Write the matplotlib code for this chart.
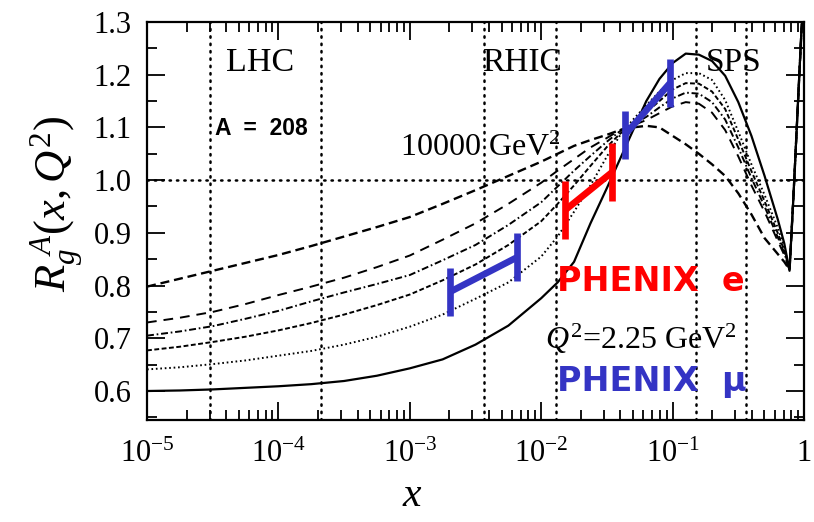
import numpy as np
import matplotlib
matplotlib.use("Agg")
import matplotlib.pyplot as plt
from matplotlib.ticker import FixedLocator, LogLocator, MultipleLocator, FormatStrFormatter, NullFormatter

plt.rcParams['font.family'] = ['Liberation Serif', 'DejaVu Serif']
plt.rcParams['mathtext.fontset'] = 'custom'
plt.rcParams['mathtext.rm'] = 'Liberation Serif'
plt.rcParams['mathtext.it'] = 'Liberation Serif:italic'
plt.rcParams['axes.unicode_minus'] = False
plt.rcParams['lines.scale_dashes'] = False

# ---- data (log10 x grid shared by all curves) ----
logx = [-5, -4.75, -4.5, -4.25, -4, -3.75, -3.5, -3.25, -3, -2.75, -2.5, -2.25, -2, -1.875, -1.75, -1.625, -1.5,
        -1.4, -1.3, -1.2, -1.1, -1.0, -0.9, -0.8, -0.7, -0.6, -0.5, -0.4, -0.3, -0.2, -0.15, -0.11,
        -0.08, -0.05, -0.02, 0.0]

rg_q2_2p25 = [0.600, 0.601, 0.603, 0.606, 0.609, 0.613, 0.619, 0.629, 0.643, 0.660, 0.688, 0.724, 0.776, 0.806,
              0.845, 0.918, 0.985, 1.040, 1.095, 1.150, 1.192, 1.222, 1.240, 1.238, 1.226, 1.198, 1.148, 1.084,
              1.008, 0.926, 0.880, 0.828, 0.97, 1.125, 1.28, 1.36]
rg_curve2 = [0.641, 0.645, 0.651, 0.658, 0.667, 0.676, 0.688, 0.703, 0.722, 0.745, 0.775, 0.806, 0.855, 0.893,
             0.940, 0.990, 1.045, 1.085, 1.115, 1.142, 1.168, 1.190, 1.203, 1.203, 1.190, 1.152, 1.092, 1.030,
             0.972, 0.910, 0.872, 0.830, 0.97, 1.125, 1.28, 1.36]
rg_curve3 = [0.677, 0.684, 0.693, 0.703, 0.715, 0.729, 0.745, 0.763, 0.783, 0.810, 0.840, 0.877, 0.922, 0.955,
             0.990, 1.027, 1.063, 1.088, 1.108, 1.129, 1.150, 1.172, 1.184, 1.183, 1.168, 1.135, 1.077, 1.017,
             0.960, 0.900, 0.866, 0.830, 0.97, 1.125, 1.28, 1.36]
rg_curve4 = [0.705, 0.713, 0.723, 0.737, 0.752, 0.770, 0.787, 0.803, 0.820, 0.848, 0.877, 0.915, 0.958, 0.988,
             1.018, 1.046, 1.073, 1.093, 1.106, 1.120, 1.138, 1.155, 1.166, 1.164, 1.148, 1.115, 1.062, 1.004,
             0.950, 0.892, 0.862, 0.830, 0.97, 1.125, 1.28, 1.36]
rg_curve5 = [0.730, 0.739, 0.750, 0.765, 0.782, 0.798, 0.815, 0.835, 0.857, 0.887, 0.918, 0.955, 0.995, 1.018,
             1.040, 1.062, 1.080, 1.095, 1.104, 1.114, 1.127, 1.140, 1.148, 1.145, 1.128, 1.095, 1.045, 0.990,
             0.940, 0.885, 0.858, 0.830, 0.97, 1.125, 1.28, 1.36]
rg_q2_10000 = [0.798, 0.813, 0.828, 0.843, 0.858, 0.875, 0.893, 0.911, 0.930, 0.955, 0.981, 1.008, 1.035, 1.050,
               1.065, 1.076, 1.086, 1.095, 1.100, 1.103, 1.100, 1.084, 1.068, 1.050, 1.030, 1.008, 0.975, 0.935,
               0.890, 0.860, 0.845, 0.830, 0.97, 1.125, 1.28, 1.36]

# PHENIX bars: x at the two ends, y centres, half heights
phenix_mu1_x = [0.00202, 0.0066]
phenix_mu1_y = [0.788, 0.854]
phenix_mu2_x = [0.0434, 0.0955]
phenix_mu2_y = [1.086, 1.184]
phenix_e_x = [0.0152, 0.0346]
phenix_e_y = [0.943, 1.015]
mu_half = 0.045
e_half = 0.055

region_lines = [3e-5, 2.1e-4, 3.7e-3, 1.3e-2, 0.15, 0.36]
x_ticks = [1e-5, 1e-4, 1e-3, 1e-2, 1e-1, 1]
x_tick_labels = ['$10^{-5}$', '$10^{-4}$', '$10^{-3}$', '$10^{-2}$', '$10^{-1}$', '1']
y_ticks = [0.6, 0.7, 0.8, 0.9, 1.0, 1.1, 1.2, 1.3]

# ---- figure ----
fig = plt.figure(figsize=(8.14, 5.22), dpi=100)
ax = fig.add_axes([0.1806, 0.1954, 0.8071, 0.7625])

xs = 10.0 ** np.array(logx)
lw = 1.4
ax.plot(xs, rg_q2_2p25, color='black', lw=1.6, ls='-')
ax.plot(xs, rg_curve2, color='black', lw=lw, ls=(0, (1.2, 2.0)))
ax.plot(xs, rg_curve3, color='black', lw=lw, ls=(0, (3.5, 1.8)))
ax.plot(xs, rg_curve4, color='black', lw=lw, ls=(0, (5, 2, 1.2, 2)))
ax.plot(xs, rg_curve5, color='black', lw=lw, ls=(0, (7, 5)))
ax.plot(xs, rg_q2_10000, color='black', lw=1.7, ls=(0, (6.5, 3.5)))

dot_style = dict(color='black', lw=1.8, ls=(0, (1.0, 4.3)), dash_capstyle='round')
for xv in region_lines:
    ax.axvline(xv, **dot_style)
ax.axhline(1.0, **dot_style)

blue = '#3434c4'
red = '#ff0000'
def bar(xp, yp, half, col):
    ax.plot(xp, yp, color=col, lw=4.8, solid_capstyle='butt')
    for xv, yv in zip(xp, yp):
        ax.plot([xv, xv], [yv - half, yv + half], color=col, lw=4.8, solid_capstyle='butt')

bar(phenix_mu1_x, phenix_mu1_y, mu_half, blue)
bar(phenix_mu2_x, phenix_mu2_y, mu_half, blue)
bar(phenix_e_x, phenix_e_y, e_half, red)

ax.set_xscale('log')
ax.set_xlim(1e-5, 1)
ax.set_ylim(0.545, 1.3)

ax.xaxis.set_major_locator(FixedLocator(x_ticks))
ax.set_xticklabels(x_tick_labels)
ax.xaxis.set_minor_locator(LogLocator(base=10, subs=np.arange(2, 10), numticks=20))
ax.xaxis.set_minor_formatter(NullFormatter())
ax.yaxis.set_major_locator(FixedLocator(y_ticks))
ax.yaxis.set_major_formatter(FormatStrFormatter('%.1f'))
ax.yaxis.set_minor_locator(MultipleLocator(0.05))

ax.tick_params(which='both', direction='in', top=True, right=True, width=1.3)
ax.tick_params(which='major', length=13, labelsize=22)
ax.tick_params(axis='x', which='major', pad=14)
ax.tick_params(axis='y', which='major', pad=11)
ax.tick_params(which='minor', length=7)
for s in ax.spines.values():
    s.set_linewidth(1.6)

# texts
ax.text(7.2e-5, 1.222, 'LHC', fontsize=24.5, ha='center', va='center')
ax.text(7.1e-3, 1.222, 'RHIC', fontsize=24, ha='center', va='center')
ax.text(0.29, 1.222, 'SPS', fontsize=24, ha='center', va='center')
ax.text(3.3e-5, 1.097, 'A  =  208', fontsize=16.5, fontweight='bold', family='Liberation Sans',
        ha='left', va='center')
ax.text(8.4e-4, 1.06, '10000 GeV$^2$', fontsize=23, ha='left', va='center')
ax.text(1.33e-2, 0.808, 'PHENIX  e', fontsize=24, color=red, fontweight='bold',
        family=['DejaVu Sans'], ha='left', va='center')
ax.text(1.07e-2, 0.698, '$Q^2$=2.25 GeV$^2$', fontsize=23, ha='left', va='center')
ax.text(1.33e-2, 0.618, 'PHENIX  \u03bc', fontsize=24, color=blue, fontweight='bold',
        family=['DejaVu Sans'], ha='left', va='center')

fig.text(0.07, 0.61, '$R_g^{\\ A}(x,Q^2)$', fontsize=32, rotation=90, ha='center', va='center')
fig.text(0.506, 0.05, '$x$', fontsize=30, ha='center', va='center')

fig.savefig('out.png', dpi=100)
